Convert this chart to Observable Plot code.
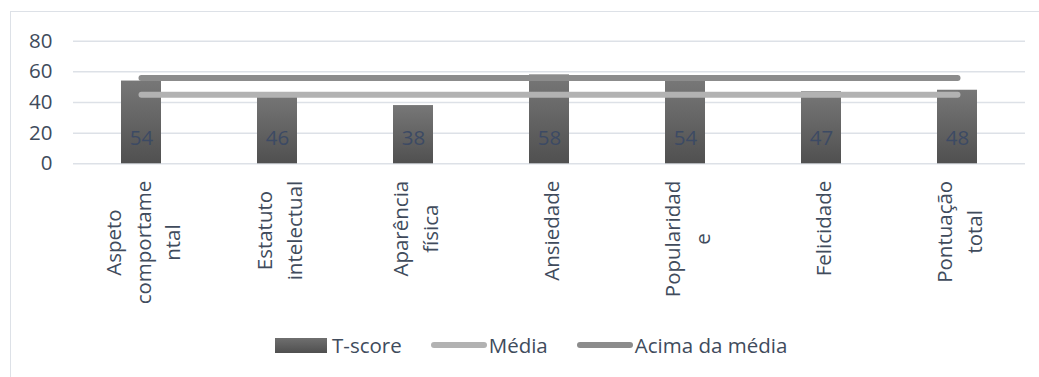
<!DOCTYPE html>
<html>
<head>
<meta charset="utf-8">
<script src="https://cdn.jsdelivr.net/npm/d3@7"></script>
<script src="https://cdn.jsdelivr.net/npm/@observablehq/plot@0.6"></script>
<style>
  html, body { margin: 0; padding: 0; background: #fff; }
  #wrap { position: relative; width: 1039px; height: 377px; overflow: hidden; font-family: "Open Sans", sans-serif; }
  #frame { position: absolute; left: 10px; top: 11px; width: 1100px; height: 400px; border-left: 1.5px solid #dde1e7; border-top: 1.5px solid #dde1e7; }
  #chart { position: absolute; left: 0; top: 0; }
  #legend { position: absolute; left: 275px; top: 331px; display: flex; align-items: center; font-size: 20.5px; color: #404b5c; white-space: nowrap; }
  .item { display: flex; align-items: center; margin-right: 29px; }
  .sw-bar { width: 52px; height: 15px; background: linear-gradient(#6f6f6f, #4f4f4f); margin-right: 5px; }
  .sw-line { width: 56px; height: 6px; border-radius: 3px; margin-right: 2px; }
</style>
</head>
<body>
<div id="wrap">
  <div id="frame"></div>
  <div id="chart"></div>
  <div id="legend">
    <div class="item"><div class="sw-bar"></div><span>T-score</span></div>
    <div class="item"><div class="sw-line" style="background:#b2b2b2"></div><span>Média</span></div>
    <div class="item"><div class="sw-line" style="background:#8c8c8c"></div><span>Acima da média</span></div>
  </div>
</div>
<script>
const categories = ["Aspeto\ncomportame\nntal", "Estatuto\nintelectual", "Aparência\nfísica", "Ansiedade", "Popularidad\ne", "Felicidade", "Pontuação\ntotal"];
const tscore = [54, 46, 38, 58, 54, 47, 48];
const media = [45, 45, 45, 45, 45, 45, 45];
const acima = [56, 56, 56, 56, 56, 56, 56];
const yTicks = [0, 20, 40, 60, 80];

const FONT = "20.5px 'Open Sans'";
const textColor = "#404b5c";

const bars = categories.map((c, i) => ({c, v: tscore[i]}));
const mediaData = categories.map((c, i) => ({c, v: media[i]}));
const acimaData = categories.map((c, i) => ({c, v: acima[i]}));

// measure longest line of each category label so the rotated block can be top-aligned
const ctx = document.createElement("canvas").getContext("2d");
ctx.font = FONT;
const blockLen = categories.map(c => d3.max(c.split("\n"), s => ctx.measureText(s).width));

const labelMarks = categories.map((c, i) =>
  Plot.text([c], {
    x: d => d,
    frameAnchor: "bottom",
    rotate: -90,
    textAnchor: "middle",
    lineAnchor: "middle",
    lineHeight: 1.44,
    dy: 17 + blockLen[i] / 2,
    fill: textColor,
    fontSize: 20.5
  })
);

const chart = Plot.plot({
  width: 1039,
  height: 320,
  marginLeft: 73,
  marginRight: 14,
  marginTop: 40.7,
  marginBottom: 156.7,
  style: {fontFamily: "'Open Sans', sans-serif", fontSize: "20.5px", color: textColor, background: "transparent", overflow: "visible"},
  x: {domain: categories, padding: 0, axis: null},
  y: {domain: [0, 80], ticks: yTicks},
  marks: [
    Plot.gridY(yTicks, {stroke: "#dde1e7", strokeOpacity: 1, strokeWidth: 1.5}),
    Plot.axisY(yTicks, {tickSize: 0, tickPadding: 21, fill: textColor, fontSize: 20.5, label: null}),
    Plot.barY(bars, {x: "c", y: "v", fill: "url(#barGrad)", insetLeft: 48, insetRight: 48}),
    Plot.line(mediaData, {x: "c", y: "v", stroke: "#b2b2b2", strokeWidth: 6, strokeLinecap: "round"}),
    Plot.line(acimaData, {x: "c", y: "v", stroke: "#8c8c8c", strokeWidth: 6, strokeLinecap: "round"}),
    Plot.text(bars, {x: "c", y: 0, text: d => String(d.v), dy: -25, fill: "#3c4a64", fontSize: 20.5}),
    ...labelMarks
  ]
});

const ns = "http://www.w3.org/2000/svg";
const defs = document.createElementNS(ns, "defs");
const grad = document.createElementNS(ns, "linearGradient");
grad.setAttribute("id", "barGrad");
grad.setAttribute("x1", "0"); grad.setAttribute("y1", "0");
grad.setAttribute("x2", "0"); grad.setAttribute("y2", "1");
[["0%", "#777777"], ["100%", "#505050"]].forEach(([o, col]) => {
  const s = document.createElementNS(ns, "stop");
  s.setAttribute("offset", o); s.setAttribute("stop-color", col);
  grad.appendChild(s);
});
defs.appendChild(grad);
chart.insertBefore(defs, chart.firstChild);

document.getElementById("chart").appendChild(chart);
</script>
</body>
</html>
